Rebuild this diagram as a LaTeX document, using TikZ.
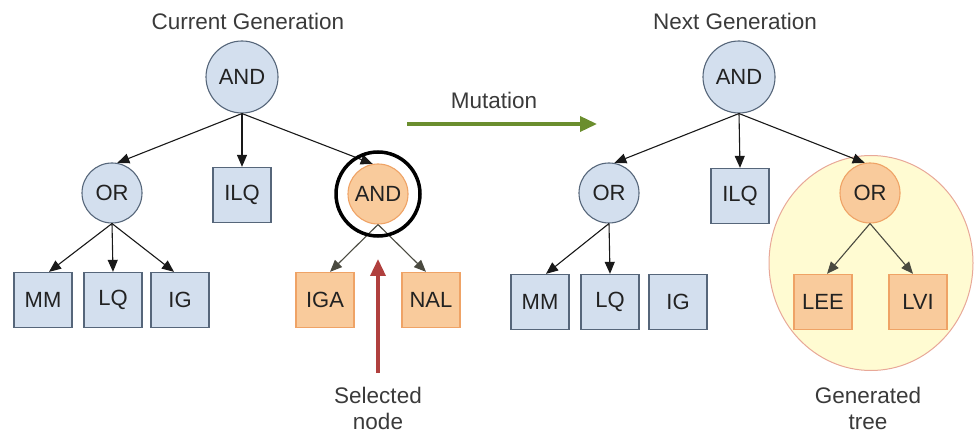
\documentclass[tikz,border=0pt]{standalone}
\usepackage{fontspec}
\setmainfont{Liberation Sans}
\usetikzlibrary{arrows.meta,shapes.geometric}

\definecolor{bluefill}{HTML}{D3DFEE}
\definecolor{blueline}{HTML}{56667A}
\definecolor{orgfill}{HTML}{F9CB9C}
\definecolor{orgline}{HTML}{EFA366}
\definecolor{yelfill}{HTML}{FFFBD2}
\definecolor{yelline}{HTML}{E8A898}
\definecolor{mutgreen}{HTML}{6B8E2E}
\definecolor{selred}{HTML}{B0403E}
\definecolor{labeltxt}{HTML}{3A3A3A}
\definecolor{nodetxt}{HTML}{222222}
\definecolor{subedge}{HTML}{4A4A40}

\begin{document}
\begin{tikzpicture}[x=1pt,y=-1pt,
  txt/.style={font=\fontsize{22.5}{26}\selectfont, text=labeltxt, align=center, inner sep=0pt},
  gate/.style={circle, draw=blueline, fill=bluefill, line width=1.1pt, minimum size=60pt,
    inner sep=0pt, font=\fontsize{22}{24}\selectfont, text=nodetxt},
  rootgate/.style={gate, minimum size=72pt},
  leaf/.style={rectangle, draw=blueline, fill=bluefill, line width=1.3pt, minimum width=58pt,
    minimum height=55pt, inner sep=0pt, font=\fontsize{22}{24}\selectfont, text=nodetxt},
  ogate/.style={gate, draw=orgline, fill=orgfill},
  oleaf/.style={leaf, draw=orgline, fill=orgfill},
  link/.style={-{Triangle[length=12pt,width=10pt]}, line width=1.1pt, draw=black!90},
  sublink/.style={link, draw=subedge},
  bigarrow/.style={line width=3.5pt, -{Triangle[length=17pt,width=15pt]}}
]
\useasboundingbox (0,0) rectangle (976,435);

% ---------- current generation ----------
\node[txt] (curtitle) at (248,21) {Current Generation};
\node[rootgate] (cand) at (242,77) {AND};
\node[gate] (cor) at (112,193) {OR};
\node[leaf] (cilq) at (242,195) {ILQ};
\node[ogate] (cand2) at (378,194) {AND};
\node[leaf] (cmm) at (43,300) {MM};
\node[leaf] (clq) at (113,300) {LQ};
\node[leaf] (cig) at (180,300) {IG};
\node[oleaf] (ciga) at (325,300) {IGA};
\node[oleaf] (cnal) at (431,300) {NAL};

\draw[link] (cand.south) -- (cor.80);
\draw[link] (cand.south) -- (cilq.north);
\draw[link] (cand.south) -- (cand2.100);
\draw[link] (cor.south) -- ([xshift=6pt]cmm.north);
\draw[link] (cor.south) -- (clq.north);
\draw[link] (cor.south) -- ([xshift=-6pt]cig.north);
\draw[sublink] (cand2.south) -- ([xshift=5pt]ciga.north);
\draw[sublink] (cand2.south) -- ([xshift=-5pt]cnal.north);

% ring marking the selected node
\node[circle, draw=black, line width=3.5pt, minimum size=84pt, inner sep=0pt] (ring) at (cand2) {};

% selected-node pointer
\node[txt] (sellabel) at (378,408) {Selected\\node};
\coordinate (selfoot) at (378,373);
\coordinate (selhead) at (378,259);
\draw[bigarrow, draw=selred, fill=selred] (selfoot) -- (selhead);

% ---------- mutation step ----------
\node[txt] (mutlabel) at (494,100) {Mutation};
\coordinate (mutstart) at (407,124);
\coordinate (mutend) at (597,124);
\draw[bigarrow, draw=mutgreen, fill=mutgreen] (mutstart) -- (mutend);

% ---------- next generation ----------
\node[txt] (nexttitle) at (735,21) {Next Generation};
\node[ellipse, draw=yelline, fill=yelfill, line width=1pt, minimum width=204pt,
  minimum height=215pt, inner sep=0pt] (gentree) at (871,263) {};
\node[rootgate] (nand) at (739,77) {AND};
\node[gate] (nor) at (609,193) {OR};
\node[leaf] (nilq) at (740,196) {ILQ};
\node[ogate] (nor2) at (870,193) {OR};
\node[leaf] (nmm) at (540,302) {MM};
\node[leaf] (nlq) at (610,302) {LQ};
\node[leaf] (nig) at (678,302) {IG};
\node[oleaf] (nlee) at (823,302) {LEE};
\node[oleaf] (nlvi) at (918,302) {LVI};

\draw[link] (nand.south) -- (nor.80);
\draw[link] (nand.south) -- (nilq.north);
\draw[link] (nand.south) -- (nor2.100);
\draw[link] (nor.south) -- ([xshift=6pt]nmm.north);
\draw[link] (nor.south) -- (nlq.north);
\draw[sublink] (nor2.south) -- ([xshift=4pt]nlee.north);
\draw[sublink] (nor2.south) -- ([xshift=-5pt]nlvi.north);

\node[txt] (genlabel) at (868,408) {Generated\\tree};
\end{tikzpicture}
\end{document}
